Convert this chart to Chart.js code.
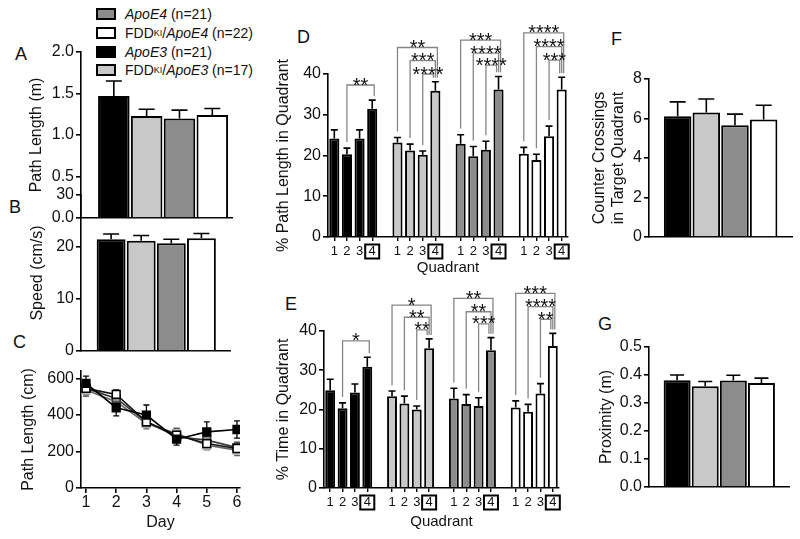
<!DOCTYPE html>
<html>
<head>
<meta charset="utf-8">
<script src="https://cdn.jsdelivr.net/npm/chart.js"></script>
<style>
body{margin:0;background:#fff;width:800px;height:539px;position:relative;overflow:hidden;font-family:"Liberation Sans",Arial,sans-serif;color:#111;}
canvas{position:absolute;}
.lbl{position:absolute;font-size:18px;line-height:18px;}
.legend{position:absolute;left:96px;top:5px;font-size:14px;}
.legend div{height:18.7px;display:flex;align-items:center;white-space:nowrap;}
.sw{display:inline-block;width:16px;height:8px;border:2px solid #000;margin-right:9px;}
sub{font-size:9px;vertical-align:-3px;line-height:0;}
</style>
</head>
<body>
<div class="legend">
 <div><span class="sw" style="background:#8c8c8c"></span><i>ApoE4</i>&nbsp;(n=21)</div>
 <div><span class="sw" style="background:#fff"></span>FDD<sub>KI</sub>/<i>ApoE4</i>&nbsp;(n=22)</div>
 <div><span class="sw" style="background:#000"></span><i>ApoE3</i>&nbsp;(n=21)</div>
 <div><span class="sw" style="background:#c8c8c8"></span>FDD<sub>KI</sub>/<i>ApoE3</i>&nbsp;(n=17)</div>
</div>
<div class="lbl" style="left:15px;top:45px">A</div>
<div class="lbl" style="left:9px;top:198px">B</div>
<div class="lbl" style="left:13px;top:333px">C</div>
<div class="lbl" style="left:297px;top:28px">D</div>
<div class="lbl" style="left:285px;top:295px">E</div>
<div class="lbl" style="left:611px;top:30px">F</div>
<div class="lbl" style="left:598px;top:315px">G</div>
<canvas id="cA"></canvas>
<canvas id="cB"></canvas>
<canvas id="cC"></canvas>
<canvas id="cD"></canvas>
<canvas id="cE"></canvas>
<canvas id="cF"></canvas>
<canvas id="cG"></canvas>
<script>
Chart.defaults.font.family = "'Liberation Sans', Arial, sans-serif";
Chart.defaults.color = '#111';

// order of bars in every panel: ApoE3, FDD_KI/ApoE3, ApoE4, FDD_KI/ApoE4
const groupColors = ['#000000', '#c8c8c8', '#8c8c8c', '#ffffff'];
const barPos = [1, 2, 3, 4];

// A – path length (m)
const pathLenM = [1.47, 1.23, 1.20, 1.24];
const pathLenMErr = [0.18, 0.08, 0.10, 0.08];
const ticksA = [0, 0.5, 1.0, 1.5, 2.0];

// B – speed (cm/s)
const speed = [21.5, 21.2, 20.7, 21.7];
const speedErr = [1.0, 1.0, 0.8, 0.9];
const ticksB = [0, 10, 20, 30];

// C – path length per day (cm)
const days = [1, 2, 3, 4, 5, 6];
const dayApoE3 = [572, 439, 399, 267, 307, 320];
const dayApoE3Err = [40, 45, 55, 33, 55, 47];
const dayFddApoE3 = [536, 472, 353, 298, 234, 207];
const dayFddApoE3Err = [35, 40, 30, 30, 25, 30];
const dayApoE4 = [545, 490, 362, 280, 262, 221];
const dayApoE4Err = [35, 35, 30, 25, 30, 30];
const dayFddApoE4 = [545, 512, 362, 289, 243, 216];
const dayFddApoE4Err = [30, 25, 30, 35, 30, 25];
const ticksC = [0, 200, 400, 600];

// D – % path length in quadrant
const quadLabels = ['1', '2', '3', '4'];
const dApoE3 = [24.2, 20.3, 24.2, 31.5];
const dApoE3Err = [2.1, 1.5, 2.1, 2.1];
const dFddApoE3 = [23.2, 21.2, 20.2, 35.9];
const dFddApoE3Err = [1.2, 1.6, 0.9, 2.2];
const dApoE4 = [22.9, 19.8, 21.4, 36.2];
const dApoE4Err = [2.2, 2.4, 2.1, 3.2];
const dFddApoE4 = [20.4, 18.9, 24.7, 36.2];
const dFddApoE4Err = [1.6, 1.4, 2.5, 3.0];
// [group, from quadrant, to quadrant, bracket level, stars]
const dBrackets = [
  [0, 2, 4, 37.3, '**'],
  [1, 1, 4, 46.5, '**'], [1, 2, 4, 43.3, '***'], [1, 3, 4, 40.0, '****'],
  [2, 1, 4, 48.3, '***'], [2, 2, 4, 45.1, '****'], [2, 3, 4, 42.2, '****'],
  [3, 1, 4, 50.1, '****'], [3, 2, 4, 46.7, '****'], [3, 3, 4, 43.4, '***']
];

// E – % time in quadrant
const eApoE3 = [24.9, 20.3, 24.3, 30.9];
const eApoE3Err = [2.8, 1.4, 2.2, 2.4];
const eFddApoE3 = [23.4, 21.5, 20.0, 35.6];
const eFddApoE3Err = [1.3, 1.9, 0.9, 2.4];
const eApoE4 = [22.8, 21.4, 20.9, 35.1];
const eApoE4Err = [2.6, 2.4, 2.1, 3.2];
const eFddApoE4 = [20.5, 19.4, 24.1, 36.2];
const eFddApoE4Err = [1.7, 1.9, 2.5, 3.2];
const eBrackets = [
  [0, 2, 4, 37.5, '*'],
  [1, 1, 4, 46.6, '*'], [1, 2, 4, 43.5, '**'], [1, 3, 4, 40.3, '**'],
  [2, 1, 4, 48.3, '**'], [2, 2, 4, 44.9, '**'], [2, 3, 4, 41.8, '***'],
  [3, 1, 4, 49.6, '***'], [3, 2, 4, 46.2, '****'], [3, 3, 4, 43.0, '**']
];
const ticksQuad = [0, 10, 20, 30, 40];

// F – counter crossings
const crossings = [6.11, 6.30, 5.66, 5.95];
const crossingsErr = [0.73, 0.69, 0.56, 0.72];
const ticksF = [0, 2, 4, 6, 8];

// G – proximity (m)
const proximity = [0.381, 0.360, 0.380, 0.371];
const proximityErr = [0.019, 0.017, 0.019, 0.018];
const ticksG = [0, 0.1, 0.2, 0.3, 0.4, 0.5];

// ---- plugins ----
const errPlugin = {
  id: 'errs',
  beforeDatasetsDraw(chart) {
    const ctx = chart.ctx, y = chart.scales.y;
    chart.data.datasets.forEach((ds, i) => {
      if (!ds.errs) return;
      const meta = chart.getDatasetMeta(i);
      ctx.save();
      ctx.strokeStyle = ds.errColor || '#000';
      ctx.lineWidth = ds.errWidth || 1.6;
      meta.data.forEach((el, j) => {
        const raw = ds.data[j], e = ds.errs[j];
        if (raw == null || e == null) return;
        const v = typeof raw === 'object' ? raw.y : raw;
        const hi = y.getPixelForValue(v + e);
        const lo = ds.errBoth ? y.getPixelForValue(v - e) : el.y;
        const w = ds.capW || 4;
        ctx.beginPath();
        ctx.moveTo(el.x, lo); ctx.lineTo(el.x, hi);
        ctx.moveTo(el.x - w, hi); ctx.lineTo(el.x + w, hi);
        if (ds.errBoth) { ctx.moveTo(el.x - w, lo); ctx.lineTo(el.x + w, lo); }
        ctx.stroke();
      });
      ctx.restore();
    });
  }
};

const bracketPlugin = {
  id: 'brackets',
  afterDraw(chart, args, opts) {
    if (!opts.items) return;
    const ctx = chart.ctx, x = chart.scales.x, y = chart.scales.y;
    const ds = chart.data.datasets[0];
    opts.items.forEach(([g, fq, tq, lvl, lab]) => {
      const f = g * 5 + fq - 1, t = g * 5 + tq - 1;
      const k = opts.items.filter(b => b[0] === g && b[3] > lvl).length;
      const x1 = x.getPixelForValue(f);
      const x2 = x.getPixelForValue(t) + 2 - 2 * k;
      const yl = y.getPixelForValue(lvl);
      const y1 = y.getPixelForValue(ds.data[f] + ds.errs[f] + 1.5);
      const y2 = y.getPixelForValue(ds.data[t] + ds.errs[t] + 1.0);
      ctx.save();
      ctx.strokeStyle = '#858585';
      ctx.lineWidth = 1.3;
      ctx.beginPath();
      ctx.moveTo(x1, y1); ctx.lineTo(x1, yl); ctx.lineTo(x2, yl); ctx.lineTo(x2, y2);
      ctx.stroke();
      ctx.fillStyle = '#111';
      ctx.font = "20px 'Liberation Sans', Arial, sans-serif";
      ctx.textAlign = 'center';
      ctx.textBaseline = 'alphabetic';
      ctx.fillText(lab, (x1 + x2) / 2, yl + 6.5);
      ctx.restore();
    });
  }
};

const boxPlugin = {
  id: 'tickBox',
  afterDraw(chart, args, opts) {
    if (!opts.idx) return;
    const ctx = chart.ctx, x = chart.scales.x, a = chart.chartArea;
    ctx.save();
    ctx.strokeStyle = '#000';
    ctx.lineWidth = 2;
    opts.idx.forEach(i => {
      ctx.strokeRect(x.getPixelForValue(i) - 7, a.bottom + opts.dy - 7, 14, 14);
    });
    ctx.restore();
  }
};

Chart.register(errPlugin, bracketPlugin, boxPlugin);

// ---- helpers ----
function place(id, box, yw, xh, pt, pr) {
  const c = document.getElementById(id);
  c.width = box.r - box.l + yw + pr;
  c.height = box.b - box.t + pt + xh;
  c.style.left = (box.l - yw) + 'px';
  c.style.top = (box.t - pt) + 'px';
  return c;
}

function yAxis(max, ticks, title, yw, fmt) {
  return {
    type: 'linear', position: 'left',
    min: 0, max, z: 1,
    afterBuildTicks: s => { s.ticks = ticks.map(v => ({ value: v })); },
    afterFit: s => { s.width = yw; s.paddingTop = 0; s.paddingBottom = 0; },
    border: { display: true, color: '#000', width: 1.6 },
    grid: { drawOnChartArea: false, color: '#000', lineWidth: 1.6, tickLength: 5 },
    ticks: { font: { size: 16 }, color: '#111', padding: 2, autoSkip: false, callback: fmt || (v => String(v)) },
    title: { display: true, text: title, font: { size: 16 }, color: '#111', padding: 0 }
  };
}

function xBars(max, xh) {
  return {
    type: 'linear', min: 0, max, offset: false, z: 1,
    afterFit: s => { s.height = xh; s.paddingLeft = 0; s.paddingRight = 0; },
    border: { display: true, color: '#000', width: 1.6 },
    grid: { display: false },
    ticks: { display: false }
  };
}

function groupBars(id, box, yw, vals, errs, max, ticks, title, fmt, xmax, capW) {
  const xh = 12;
  const c = place(id, box, yw, xh, 10, 4);
  return new Chart(c, {
    type: 'bar',
    data: {
      datasets: [{
        data: barPos.map((p, i) => ({ x: p, y: vals[i] })),
        errs,
        capW,
        backgroundColor: groupColors,
        borderColor: '#000',
        borderWidth: 2,
        barPercentage: 0.96,
        categoryPercentage: 1
      }]
    },
    options: {
      responsive: false, animation: false,
      layout: { padding: { top: 10, right: 4, left: 0, bottom: 0 } },
      plugins: { legend: { display: false }, tooltip: { enabled: false } },
      scales: { x: xBars(xmax, xh), y: yAxis(max, ticks, title, yw, fmt) }
    }
  });
}

const fmt1 = v => v.toFixed(1);
const fmt0 = v => v.toFixed(0);

groupBars('cA', { l: 81, r: 232, t: 52, b: 218 }, 54, pathLenM, pathLenMErr, 2, ticksA, 'Path Length (m)', fmt1, 4.6, 8);
groupBars('cB', { l: 81, r: 230, t: 195, b: 351 }, 53, speed, speedErr, 30, ticksB, 'Speed (cm/s)', fmt0, 4.95, 8);
groupBars('cF', { l: 649, r: 792, t: 79, b: 237 }, 59, crossings, crossingsErr, 8, ticksF, ['Counter Crossings', 'in Target Quadrant'], fmt0, 4.99, 8);
groupBars('cG', { l: 649, r: 789, t: 347, b: 487 }, 52, proximity, proximityErr, 0.5, ticksG, 'Proximity (m)', fmt1, 4.98, 7);

// ---- C ----
(function () {
  const box = { l: 81, r: 240, t: 371, b: 488 };
  const yw = 62, xh = 44;
  const c = place('cC', box, yw, xh, 8, 8);
  const series = [
    [dayApoE3, dayApoE3Err, '#000000', '#000000', '#000000'],
    [dayFddApoE4, dayFddApoE4Err, '#ffffff', '#000000', '#111111'],
    [dayApoE4, dayApoE4Err, '#8c8c8c', '#333333', '#333333'],
    [dayFddApoE3, dayFddApoE3Err, '#c8c8c8', '#b4b4b4', '#666666']
  ];
  new Chart(c, {
    type: 'line',
    data: {
      datasets: series.map(([v, e, fill, edge, line]) => ({
        data: days.map((d, i) => ({ x: d, y: v[i] })),
        errs: e, errBoth: true, capW: 3, errColor: line, errWidth: 1.3,
        borderColor: line, borderWidth: 1.6,
        pointStyle: 'rect', pointRadius: 5.5,
        pointBackgroundColor: fill, pointBorderColor: edge, pointBorderWidth: 1.5
      }))
    },
    options: {
      responsive: false, animation: false,
      layout: { padding: { top: 8, right: 8, left: 0, bottom: 0 } },
      plugins: { legend: { display: false }, tooltip: { enabled: false } },
      scales: {
        x: {
          type: 'linear', position: 'bottom', min: 0.834, max: 6.1, z: 1,
          afterBuildTicks: s => { s.ticks = days.map(v => ({ value: v })); },
          afterFit: s => { s.height = xh; s.paddingLeft = 0; s.paddingRight = 0; },
          border: { display: true, color: '#000', width: 1.6 },
          grid: { drawOnChartArea: false, color: '#000', lineWidth: 1.6, tickLength: 5 },
          ticks: { font: { size: 16 }, color: '#111', padding: 0, maxRotation: 0, autoSkip: false, callback: fmt0 },
          title: { display: true, text: 'Day', font: { size: 16 }, color: '#111', padding: 0 }
        },
        y: yAxis(640, ticksC, 'Path Length (cm)', yw, fmt0)
      }
    }
  });
})();

// ---- D & E ----
function slots(parts) {
  const out = [];
  parts.forEach((p, i) => { if (i) out.push(null); out.push(...p); });
  return out;
}
const qTicks = slots([quadLabels, quadLabels, quadLabels, quadLabels]).map(v => v || '');
const qColors = slots(groupColors.map(c => [c, c, c, c]));
const boxedIdx = qTicks.map((l, i) => l === '4' ? i : -1).filter(i => i >= 0);

function quadChart(id, box, yw, xh, pt, vals, errs, brackets, title) {
  const c = place(id, box, yw, xh, pt, 8);
  return new Chart(c, {
    type: 'bar',
    data: {
      labels: qTicks,
      datasets: [{
        data: slots(vals),
        errs: slots(errs),
        capW: 3.5,
        backgroundColor: qColors,
        borderColor: '#000',
        borderWidth: 2,
        barPercentage: 0.8,
        categoryPercentage: 1
      }]
    },
    options: {
      responsive: false, animation: false,
      layout: { padding: { top: pt, right: 8, left: 0, bottom: 0 } },
      plugins: {
        legend: { display: false }, tooltip: { enabled: false },
        brackets: { items: brackets },
        tickBox: { idx: boxedIdx, dy: 14.5 }
      },
      scales: {
        x: {
          z: 1,
          afterFit: s => { s.height = xh; s.paddingLeft = 0; s.paddingRight = 0; },
          border: { display: true, color: '#000', width: 1.6 },
          grid: {
            offset: false, drawOnChartArea: false, lineWidth: 1.4, tickLength: 4,
            color: ctx => qTicks[ctx.index] ? '#000' : 'rgba(0,0,0,0)'
          },
          ticks: { font: { size: 13 }, color: '#111', padding: 3, autoSkip: false, maxRotation: 0 },
          title: { display: true, text: 'Quadrant', font: { size: 15 }, color: '#111', padding: 0 }
        },
        y: yAxis(40, ticksQuad, title, yw, fmt0)
      }
    }
  });
}

quadChart('cD', { l: 328, r: 568, t: 74, b: 237 }, 54, 40, 70,
  [dApoE3, dFddApoE3, dApoE4, dFddApoE4], [dApoE3Err, dFddApoE3Err, dApoE4Err, dFddApoE4Err],
  dBrackets, '% Path Length in Quadrant');
quadChart('cE', { l: 324, r: 559, t: 331, b: 488 }, 50, 43, 60,
  [eApoE3, eFddApoE3, eApoE4, eFddApoE4], [eApoE3Err, eFddApoE3Err, eApoE4Err, eFddApoE4Err],
  eBrackets, '% Time in Quadrant');
</script>
</body>
</html>
